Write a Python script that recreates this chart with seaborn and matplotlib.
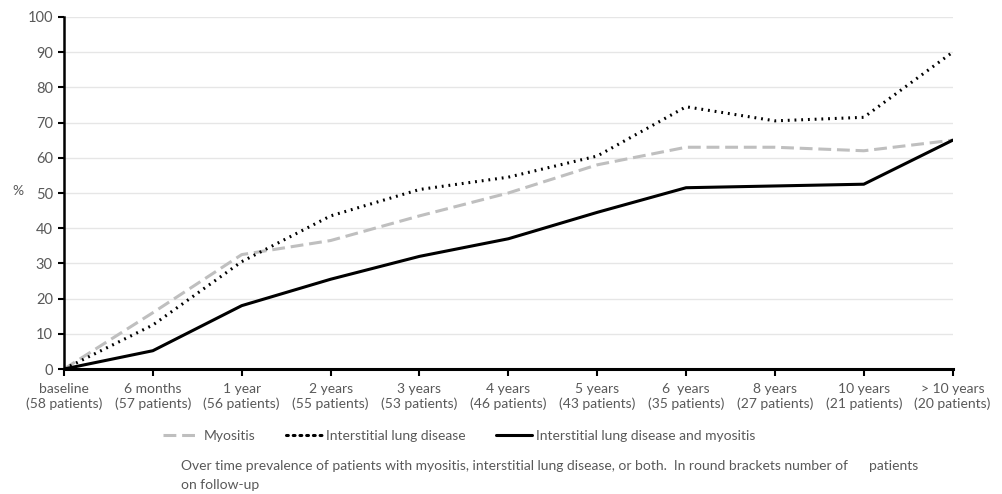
import pandas as pd
import seaborn as sns
import matplotlib.pyplot as plt

# --- data ---
periodos = ["baseline", "6 months", "1 year", "2 years", "3 years", "4 years",
            "5 years", "6  years", "8 years", "10 years", "> 10 years"]
pacientes = [58, 57, 56, 55, 53, 46, 43, 35, 27, 21, 20]

myositis = [0, 16, 32.5, 36.5, 43.5, 50, 58, 63, 63, 62, 65]
ild = [0, 12.5, 30.5, 43.5, 51, 54.5, 60.5, 74.5, 70.5, 71.5, 90]
ambos = [0, 5.2, 18, 25.5, 32, 37, 44.5, 51.5, 52, 52.5, 65]

series = ["Myositis", "Interstitial lung disease",
          "Interstitial lung disease and myositis"]

etiquetas = [f"{p}\n({n} patients)" for p, n in zip(periodos, pacientes)]

df = pd.DataFrame({"periodo": etiquetas, series[0]: myositis,
                   series[1]: ild, series[2]: ambos})
df_long = df.melt(id_vars="periodo", var_name="serie", value_name="pct")

# --- plot ---
sns.set_theme(style="white")
plt.rcParams["font.family"] = ["Lato", "DejaVu Sans"]
gris = "#595959"

fig = plt.figure(figsize=(10.03, 4.94), dpi=100)
ax = fig.add_axes([0.0638, 0.253, 0.886, 0.7126])

sns.lineplot(data=df_long, x="periodo", y="pct", hue="serie", style="serie",
             palette={series[0]: "#bfbfbf", series[1]: "black", series[2]: "black"},
             dashes={series[0]: (4.2, 1.9), series[1]: (0.6, 1.6), series[2]: ""},
             linewidth=2.2, ax=ax, legend=True, sort=False)
for l in ax.get_lines():
    if l.get_label() == series[1]:
        l.set_dash_capstyle("round")

ax.set_xlim(0, len(periodos) - 1)
ax.set_ylim(0, 100)
ax.set_yticks(range(0, 101, 10))
ax.yaxis.grid(True, color="#e6e6e6", linewidth=1)
ax.xaxis.grid(False)
for s in ["top", "right"]:
    ax.spines[s].set_visible(False)
ax.spines["left"].set_color("black")
ax.spines["left"].set_linewidth(1.8)
ax.spines["bottom"].set_color("black")
ax.spines["bottom"].set_linewidth(2.2)
ax.tick_params(axis="x", bottom=True, length=5, width=1.5, color="black",
               labelsize=10, labelcolor=gris, pad=5)
ax.tick_params(axis="y", left=True, length=4, width=1.5, color="black",
               labelsize=10.5, labelcolor=gris, pad=4)
ax.set_xlabel("")
ax.set_ylabel("%", rotation=0, color=gris, fontsize=10, labelpad=14)
ax.yaxis.set_label_coords(-0.052, 0.49)

leg = ax.legend(loc="center", bbox_to_anchor=(0.445, -0.19), ncol=3, frameon=False,
                fontsize=10, labelcolor=gris, handlelength=2.6, handletextpad=0.3,
                columnspacing=2.2)
for h in leg.get_lines():
    if h.get_label() == series[1]:
        h.set_dash_capstyle("round")

fig.text(0.18, 0.069, "Over time prevalence of patients with myositis, interstitial lung "
         "disease, or both.  In round brackets number of      patients\non follow-up",
         color=gris, fontsize=10, linespacing=1.7, va="top")

plt.savefig("out.png", dpi=100)
